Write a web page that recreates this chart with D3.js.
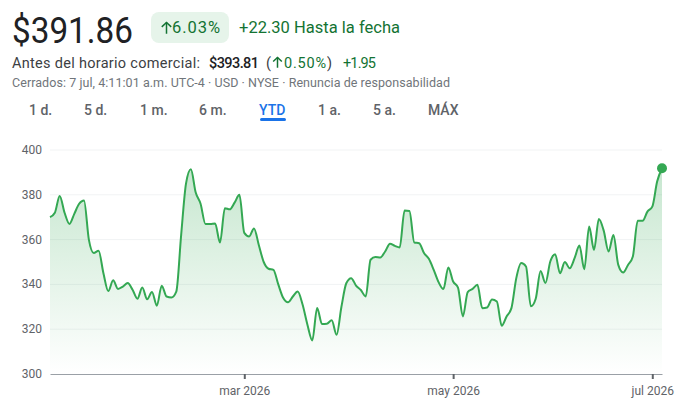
<!DOCTYPE html>
<html>
<head>
<meta charset="utf-8">
<script src="https://cdn.jsdelivr.net/npm/d3@7"></script>
<style>
  body { margin: 0; background: #fff; font-family: Roboto, Arial, sans-serif; }
  svg { display: block; }
</style>
</head>
<body>
<svg id="chart" width="698" height="413"></svg>
<script>
// closing prices, one per trading day (31 dic 2025 .. 6 jul 2026)
const closes = [
  370, 372, 379.5, 372, 367, 371.5, 376, 377.5, 360, 354,
  355, 345, 337, 341.8, 338, 339, 340.6, 337.6, 333.6, 338.6,
  333.4, 336.6, 330.5, 339.4, 334.6, 334.2, 336.8, 362, 385, 391.4,
  381, 376, 367, 367, 367.2, 358.7, 374, 373.5, 376.5, 380,
  363, 361.4, 365, 357.5, 350, 347, 346.5, 340, 334, 332,
  334.6, 336.8, 331, 322, 315, 329.5, 322.3, 322.4, 324, 317.5,
  330, 340.5, 342.8, 339.5, 337.5, 334.6, 351, 352.2, 352, 354.7,
  358.2, 357.2, 356.5, 373, 372.8, 358.7, 358.4, 354, 351.4, 346.5,
  341, 337.9, 347.6, 341.3, 338.6, 325.7, 336.6, 338, 339.8, 329.4,
  329.7, 333.3, 332.4, 321.5, 325.7, 329.4, 342.8, 349.5, 348, 330.2,
  333.6, 346, 340.6, 350.2, 353.5, 345, 350, 347.2, 351.7, 357.4,
  346.8, 365.8, 355.4, 369.2, 364, 354.7, 362, 348.7, 345.3, 348.7,
  352.5, 368.4, 368.4, 372.5, 374.7, 385.9, 391.86
];
const yTicks = [300, 320, 340, 360, 380, 400];
const xTickIdx = [40, 83, 124];
const xTickLabels = ['mar 2026', 'may 2026', 'jul 2026'];
const ranges = ['1 d.', '5 d.', '1 m.', '6 m.', 'YTD', '1 a.', '5 a.', 'MÁX'];
const rangeX = [29, 84, 140, 199, 259, 318, 373, 428];

const green = '#34a853';
const darkGreen = '#137333';

const svg = d3.select('#chart');

// small "arrow_upward" icon, h = height in px
function upArrow(cx, baseY, h, color) {
  const g = svg.append('g').attr('stroke', color).attr('fill', 'none')
    .attr('stroke-width', 1.5).attr('stroke-linecap', 'square');
  g.append('line').attr('x1', cx).attr('x2', cx).attr('y1', baseY).attr('y2', baseY - h + 1);
  g.append('polyline')
    .attr('points', `${cx - h * 0.38},${baseY - h * 0.6} ${cx},${baseY - h + 0.5} ${cx + h * 0.38},${baseY - h * 0.6}`);
}

// ---- header
svg.append('text')
  .attr('x', 12).attr('y', 43)
  .attr('font-size', 37).attr('fill', '#202124')
  .attr('textLength', 121).attr('lengthAdjust', 'spacingAndGlyphs')
  .text('$391.86');

svg.append('rect')
  .attr('x', 151).attr('y', 12).attr('width', 78).attr('height', 31)
  .attr('rx', 8).attr('fill', '#e6f4ea');
upArrow(166.5, 33, 11, darkGreen);
svg.append('text')
  .attr('x', 172).attr('y', 33)
  .attr('font-size', 16.5).attr('fill', darkGreen)
  .attr('textLength', 48)
  .text('6.03%');
svg.append('text')
  .attr('x', 239).attr('y', 33)
  .attr('font-size', 16.5).attr('fill', darkGreen)
  .attr('textLength', 161)
  .text('+22.30 Hasta la fecha');

svg.append('text')
  .attr('x', 12).attr('y', 67.5)
  .attr('font-size', 14.5).attr('fill', '#3c4043')
  .attr('textLength', 188)
  .text('Antes del horario comercial:');
svg.append('text')
  .attr('x', 209).attr('y', 67.5)
  .attr('font-size', 14.5).attr('font-weight', 500).attr('fill', '#202124')
  .attr('textLength', 50)
  .text('$393.81');
svg.append('text')
  .attr('x', 266).attr('y', 67.5)
  .attr('font-size', 14.5).attr('fill', '#3c4043')
  .text('(');
upArrow(277.5, 67, 10, darkGreen);
svg.append('text')
  .attr('x', 284).attr('y', 67.5)
  .attr('font-size', 14.5).attr('fill', darkGreen)
  .attr('textLength', 42)
  .text('0.50%');
svg.append('text')
  .attr('x', 327).attr('y', 67.5)
  .attr('font-size', 14.5).attr('fill', '#3c4043')
  .text(')');
svg.append('text')
  .attr('x', 343).attr('y', 67.5)
  .attr('font-size', 14.5).attr('fill', darkGreen)
  .attr('textLength', 33)
  .text('+1.95');

svg.append('text')
  .attr('x', 12).attr('y', 87)
  .attr('font-size', 12.5).attr('fill', '#70757a')
  .attr('textLength', 438)
  .text('Cerrados: 7 jul, 4:11:01 a.m. UTC-4 · USD · NYSE · Renuncia de responsabilidad');

ranges.forEach((r, i) => {
  svg.append('text')
    .attr('x', rangeX[i]).attr('y', 115)
    .attr('font-size', 14).attr('font-weight', 500)
    .attr('fill', r == 'YTD' ? '#1a73e8' : '#5f6368')
    .text(r);
});
svg.append('rect')
  .attr('x', 260).attr('y', 118).attr('width', 26).attr('height', 3)
  .attr('rx', 1.5).attr('fill', '#1a73e8');

// ---- chart
const plotL = 50, plotR = 662, plotT = 150, plotB = 374;
const x = d3.scaleLinear().domain([0, closes.length - 1]).range([plotL, plotR]);
const y = d3.scaleLinear().domain([300, 400]).range([plotB, plotT]);

svg.append('g')
  .selectAll('line')
  .data(yTicks.filter(t => t > 300))
  .enter().append('line')
    .attr('x1', plotL).attr('x2', plotR)
    .attr('y1', d => y(d)).attr('y2', d => y(d))
    .attr('stroke', '#f1f3f4').attr('stroke-width', 1);

svg.append('g')
  .selectAll('text')
  .data(yTicks)
  .enter().append('text')
    .attr('x', 42).attr('y', d => y(d) + 4)
    .attr('text-anchor', 'end')
    .attr('font-size', 12).attr('fill', '#5f6368')
    .text(d => d);

const defs = svg.append('defs');
const grad = defs.append('linearGradient')
  .attr('id', 'fillGrad')
  .attr('x1', 0).attr('y1', 0).attr('x2', 0).attr('y2', 1);
grad.append('stop').attr('offset', '0%').attr('stop-color', green).attr('stop-opacity', 0.28);
grad.append('stop').attr('offset', '100%').attr('stop-color', green).attr('stop-opacity', 0);

const area = d3.area()
  .x((d, i) => x(i))
  .y0(plotB)
  .y1(d => y(d))
  .curve(d3.curveMonotoneX);

const line = d3.line()
  .x((d, i) => x(i))
  .y(d => y(d))
  .curve(d3.curveMonotoneX);

svg.append('path')
  .datum(closes)
  .attr('d', area)
  .attr('fill', 'url(#fillGrad)');

svg.append('path')
  .datum(closes)
  .attr('d', line)
  .attr('fill', 'none')
  .attr('stroke', green)
  .attr('stroke-width', 2);

// x axis
const xAxis = d3.axisBottom(x)
  .tickValues(xTickIdx)
  .tickFormat((d, i) => xTickLabels[i])
  .tickSize(5)
  .tickSizeOuter(0);

const gx = svg.append('g')
  .attr('transform', `translate(0,${plotB})`)
  .call(xAxis);
gx.select('.domain').attr('stroke', '#9aa0a6');
gx.selectAll('.tick line').attr('stroke', '#5f6368').attr('stroke-width', 2);
gx.selectAll('.tick text')
  .attr('font-family', 'Roboto, Arial, sans-serif')
  .attr('font-size', 12).attr('fill', '#5f6368')
  .attr('dy', '1.1em');

svg.append('circle')
  .attr('cx', x(closes.length - 1))
  .attr('cy', y(closes[closes.length - 1]))
  .attr('r', 5)
  .attr('fill', green);
</script>
</body>
</html>
